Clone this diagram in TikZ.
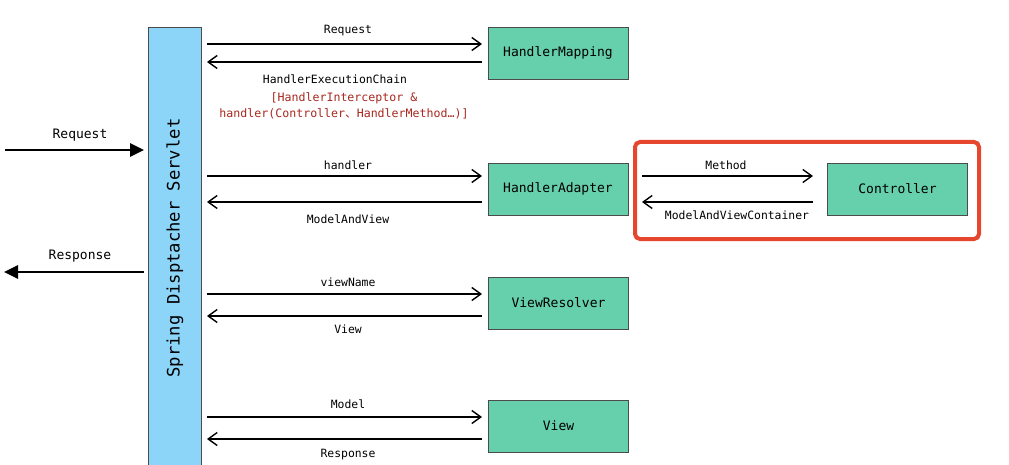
\documentclass[tikz,border=0pt]{standalone}
\usepackage{fontspec}
\setmonofont{DejaVu Sans Mono}
\newfontfamily\cjk{Noto Sans CJK SC}
\usetikzlibrary{arrows.meta}
\definecolor{boxgreen}{HTML}{66CFAC}
\definecolor{servblue}{HTML}{8CD4F8}
\definecolor{redframe}{HTML}{E6462E}
\definecolor{darkred}{HTML}{A8281E}
\begin{document}
\begin{tikzpicture}[x=1pt,y=-1pt,
  comp/.style={draw=black!70,line width=0.8pt,fill=boxgreen,minimum width=140pt,minimum height=52pt,inner sep=0pt,font=\ttfamily\fontsize{13}{15}\selectfont},
  msg/.style={line width=1.4pt,-{Straight Barb[length=9pt,width=13pt,line width=1.4pt]}},
  ext/.style={line width=2.6pt,-{Triangle[length=14pt,width=13pt]}},
  lbl/.style={font=\ttfamily\fontsize{11.4}{13}\selectfont,inner sep=0pt},
  biglbl/.style={font=\ttfamily\fontsize{13}{15}\selectfont,inner sep=0pt}]
\useasboundingbox (0,0) rectangle (1009,465);
\fill[white] (0,0) rectangle (1009,465);
% servlet bar
\node[draw=black!70,line width=0.8pt,fill=servblue,minimum width=53pt,minimum height=445pt,inner sep=0pt,anchor=north west] (srv) at (148,27) {};
\node[rotate=90,font=\ttfamily\fontsize{17.2}{19}\selectfont] (srvlbl) at (175,248) {Spring Disptacher Servlet};
% components
\node[comp] (hm) at (558,53) {HandlerMapping};
\node[comp] (ha) at (558,189) {HandlerAdapter};
\node[comp] (ctl) at (897.5,189) {Controller};
\node[comp] (vr) at (558.5,303) {ViewResolver};
\node[comp] (vw) at (558.5,426) {View};
% red frame
\draw[redframe,line width=4pt,rounded corners=5pt] (635,142) rectangle (979,239);
% anchors
\coordinate (s1) at (207,44); \coordinate (s2) at (207,62);
\coordinate (s3) at (207,176); \coordinate (s4) at (207,202);
\coordinate (s5) at (207,294); \coordinate (s6) at (207,316);
\coordinate (s7) at (207,417); \coordinate (s8) at (207,439);
\coordinate (h1) at (482,44); \coordinate (h2) at (482,62);
\coordinate (h3) at (482,176); \coordinate (h4) at (482,202);
\coordinate (h5) at (482,294); \coordinate (h6) at (482,316);
\coordinate (h7) at (482,417); \coordinate (h8) at (482,439);
\coordinate (c1) at (642,176); \coordinate (c2) at (642,202);
\coordinate (d1) at (813,176); \coordinate (d2) at (813,202);
\coordinate (inL) at (5,150); \coordinate (inR) at (144,150);
\coordinate (outL) at (4,272); \coordinate (outR) at (144,272);
% arrows
\draw[msg] (s1) -- (h1);
\draw[msg] (h2) -- (s2);
\draw[msg] (s3) -- (h3);
\draw[msg] (h4) -- (s4);
\draw[msg] (s5) -- (h5);
\draw[msg] (h6) -- (s6);
\draw[msg] (s7) -- (h7);
\draw[msg] (h8) -- (s8);
\draw[msg] (c1) -- (d1);
\draw[msg] (d2) -- (c2);
\draw[ext] (inL) -- (inR);
\draw[ext] (outR) -- (outL);
% labels
\node[lbl] (l1) at (348,31) {Request};
\node[lbl] (l2) at (335,79) {HandlerExecutionChain};
\node[lbl,text=darkred,align=center,font=\ttfamily\fontsize{11.6}{15.5}\selectfont] (l2b) at (344,106) {[HandlerInterceptor \&\\handler(Controller{\cjk 、}HandlerMethod…)]};
\node[lbl] (l3) at (348,165) {handler};
\node[lbl] (l4) at (348,219) {ModelAndView};
\node[lbl] (l5) at (348,282) {viewName};
\node[lbl] (l6) at (348,329) {View};
\node[lbl] (l7) at (348,404) {Model};
\node[lbl] (l8) at (348,455) {Response};
\node[lbl] (l9) at (726,165) {Method};
\node[lbl] (l10) at (737,215) {ModelAndViewContainer};
\node[biglbl] (l11) at (80,135) {Request};
\node[biglbl] (l12) at (80,256) {Response};
\end{tikzpicture}
\end{document}
